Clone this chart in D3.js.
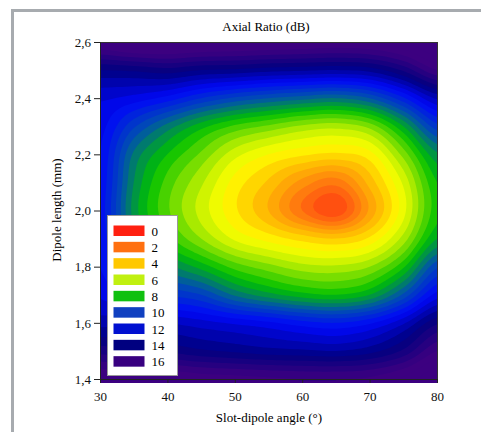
<!DOCTYPE html>
<html><head>
<meta charset="utf-8">
<script src="https://cdn.jsdelivr.net/npm/d3@7"></script>
<title>Axial Ratio (dB)</title>
<style>
body{margin:0;background:#fff;}
text{font-family:"Liberation Serif","Times New Roman",serif;}
</style>
</head>
<body>
<svg id="vis" width="481" height="432"></svg>
<script>
// slot-dipole angle (deg), one column per value
var angles = [30, 35, 40, 45, 50, 55, 60, 65, 70, 75, 80];
// dipole length (mm), one row per value, top to bottom
var lengths = [2.6, 2.5, 2.4, 2.3, 2.2, 2.1, 2.0, 1.9, 1.8, 1.7, 1.6, 1.5, 1.4];
// axial ratio (dB), rows follow "lengths"
var axialRatio = [
  [16.5, 17.0, 17.0, 16.8, 16.7, 16.6, 16.5, 16.4, 16.5, 16.9, 17.7],
  [14.0, 14.1, 14.3, 14.0, 13.9, 13.7, 13.6, 13.5, 13.7, 14.6, 16.0],
  [12.6, 12.3, 11.8, 11.0, 10.4, 10.0, 9.7, 9.5, 10.0, 11.4, 13.1],
  [12.2, 10.6, 9.3, 8.2, 7.4, 6.9, 6.4, 6.2, 6.7, 8.5, 10.8],
  [12.0, 9.4, 8.0, 6.9, 5.7, 5.0, 4.6, 4.4, 4.8, 6.7, 8.9],
  [11.9, 9.0, 7.3, 6.1, 4.8, 3.9, 2.8, 2.2, 3.7, 5.6, 8.0],
  [11.8, 8.8, 7.1, 5.8, 4.6, 3.5, 2.0, 1.1, 3.1, 5.3, 7.8],
  [11.9, 9.2, 7.7, 6.5, 5.4, 4.8, 4.3, 4.0, 4.6, 6.2, 8.5],
  [12.0, 10.4, 9.2, 8.3, 7.3, 6.7, 6.2, 6.1, 6.5, 7.9, 10.4],
  [12.4, 11.7, 11.0, 10.5, 9.4, 8.7, 8.2, 8.0, 8.5, 10.1, 12.2],
  [13.3, 13.3, 13.0, 12.7, 12.4, 12.1, 11.7, 11.5, 11.9, 12.9, 14.4],
  [14.8, 14.5, 14.4, 14.1, 13.9, 13.7, 13.6, 13.5, 13.8, 14.6, 16.0],
  [16.5, 16.4, 16.5, 16.3, 16.2, 16.1, 16.0, 16.0, 16.1, 16.6, 17.5]
];

var legendLevels = [0, 2, 4, 6, 8, 10, 12, 14, 16];
var legendColors = ["#ff2010", "#ff7010", "#ffc800", "#c0f010", "#10c010", "#1040c0", "#0010d0", "#000080", "#380080"];

var colorStops = [0, 2, 4, 5, 6, 8, 10, 12, 14, 16];
var colorValues = ["#ff1a10", "#ff7010", "#ffc800", "#ffff00", "#c0f000", "#00c000", "#0050b0", "#0008f8", "#000080", "#3c0080"];

var xTicks = [30, 40, 50, 60, 70, 80];
var yTicks = [1.4, 1.6, 1.8, 2.0, 2.2, 2.4, 2.6];

var svg = d3.select("#vis");

var x = d3.scaleLinear().domain([30, 80]).range([100, 437]);
var y = d3.scaleLinear().domain([1.4, 2.6]).range([379, 42]);
var color = d3.scaleLinear().domain(colorStops).range(colorValues).clamp(true);

// grey frame of the figure
svg.append("path")
  .attr("d", "M12.5,432V10.5H481")
  .attr("fill", "none")
  .attr("stroke", "#a7abaf")
  .attr("stroke-width", 3);

// smooth the grid for drawing (catmull-rom), contours come from d3.contours
var nx = angles.length, ny = lengths.length, K = 8;
var fw = (nx - 1) * K + 1, fh = (ny - 1) * K + 1;
function at(i, j){
  i = Math.max(0, Math.min(nx - 1, i));
  j = Math.max(0, Math.min(ny - 1, j));
  return axialRatio[j][i];
}
function cr(a, b, c, d, t){
  return 0.5 * (2 * b + (c - a) * t + (2 * a - 5 * b + 4 * c - d) * t * t + (3 * b - a - 3 * c + d) * t * t * t);
}
var grid = new Array(fw * fh);
for (var fj = 0; fj < fh; fj++){
  var j = Math.floor(fj / K), ty = fj / K - j;
  if (j >= ny - 1){ j = ny - 2; ty = 1; }
  for (var fi = 0; fi < fw; fi++){
    var i = Math.floor(fi / K), tx = fi / K - i;
    if (i >= nx - 1){ i = nx - 2; tx = 1; }
    var r = [];
    for (var k = -1; k <= 2; k++){
      r.push(cr(at(i - 1, j + k), at(i, j + k), at(i + 1, j + k), at(i + 2, j + k), tx));
    }
    grid[fj * fw + fi] = cr(r[0], r[1], r[2], r[3], ty);
  }
}

var thresholds = d3.range(0, 20, 0.5);
var contours = d3.contours().size([fw, fh]).thresholds(thresholds)(grid);

var gx = d3.scaleLinear().domain([0.5, fw - 0.5]).range([x(30), x(80)]);
var gy = d3.scaleLinear().domain([0.5, fh - 0.5]).range([y(2.6), y(1.4)]);
var path = d3.geoPath(d3.geoTransform({
  point: function(a, b){ this.stream.point(gx(a), gy(b)); }
}));

svg.append("clipPath").attr("id", "clip")
  .append("rect")
  .attr("x", x(30)).attr("y", y(2.6))
  .attr("width", x(80) - x(30)).attr("height", y(1.4) - y(2.6) + 4);

var gMap = svg.append("g").attr("clip-path", "url(#clip)");
gMap.append("rect")
  .attr("x", x(30)).attr("y", y(2.6))
  .attr("width", x(80) - x(30)).attr("height", y(1.4) - y(2.6) + 4)
  .attr("fill", color(16.3));
gMap.selectAll("path")
  .data(contours)
  .enter().append("path")
  .attr("d", path)
  .attr("fill", function(d){ return color(d.value + 0.25); });

// plot box
svg.append("rect")
  .attr("x", x(30) + 0.5).attr("y", y(2.6) + 0.5)
  .attr("width", x(80) - x(30)).attr("height", y(1.4) - y(2.6))
  .attr("fill", "none")
  .attr("stroke", "#333");

var comma = function(d){ return d3.format(".1f")(d).replace(".", ","); };

var gy0 = svg.append("g").attr("transform", "translate(100,0)")
  .call(d3.axisLeft(y).tickValues(yTicks).tickSize(6).tickPadding(3).tickFormat(comma));
var gx0 = svg.append("g").attr("transform", "translate(0,379)")
  .call(d3.axisBottom(x).tickValues(xTicks).tickSize(4).tickPadding(9).tickFormat(d3.format("d")));
[gy0, gx0].forEach(function(g){
  g.attr("font-family", null).attr("font-size", null);
  g.selectAll("text").attr("font-size", "13px").attr("fill", "#111");
  g.selectAll("line, path").attr("stroke", "#222");
});

svg.append("text")
  .attr("x", 266).attr("y", 31)
  .attr("text-anchor", "middle")
  .attr("font-size", "13px")
  .text("Axial Ratio (dB)");

svg.append("text")
  .attr("x", 269).attr("y", 422)
  .attr("text-anchor", "middle")
  .attr("font-size", "13px")
  .text("Slot-dipole angle (°)");

svg.append("text")
  .attr("transform", "translate(61,210) rotate(-90)")
  .attr("text-anchor", "middle")
  .attr("font-size", "13px")
  .text("Dipole length (mm)");

// legend
var gLeg = svg.append("g").attr("transform", "translate(107.5,215.5)");
gLeg.append("rect")
  .attr("width", 70).attr("height", 160)
  .attr("fill", "#fff")
  .attr("stroke", "#999");
var ly = d3.scaleBand().domain(legendLevels).range([5, 152]);
var item = gLeg.selectAll("g.item")
  .data(legendLevels)
  .enter().append("g").attr("class", "item")
  .attr("transform", function(d){ return "translate(0," + ly(d) + ")"; });
item.append("rect")
  .attr("x", 6).attr("y", 5)
  .attr("width", 31).attr("height", 10.5)
  .attr("fill", function(d, i){ return legendColors[i]; });
item.append("text")
  .attr("x", 44).attr("y", 10.5)
  .attr("dy", "0.35em")
  .attr("font-size", "13px")
  .text(function(d){ return d; });
</script>
</body></html>
